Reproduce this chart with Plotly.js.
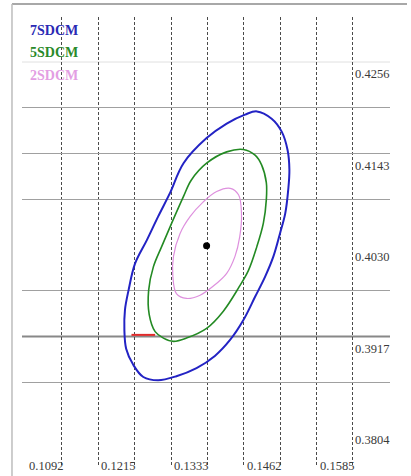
<!DOCTYPE html>
<html>
<head>
<meta charset="utf-8">
<script src="https://cdn.plot.ly/plotly-3.0.1.min.js"></script>
<style>html,body{margin:0;padding:0;background:#fff;}#chart{width:411px;height:476px;}</style>
</head>
<body>
<div id="chart"></div>
<script>
// ---- data ----
var seriesNames = ['7SDCM', '5SDCM', '2SDCM'];

var x7 = [0.1483,0.1508,0.1525,0.1535,0.1538,0.1536,0.1531,0.1522,0.1511,0.1497,0.1480,0.1460,0.1438,0.1412,0.1381,0.1347,0.1316,0.1291,0.1274,0.1262,0.1259,0.1260,0.1266,0.1277,0.1297,0.1316,0.1336,0.1359,0.1398,0.1432,0.1463,0.1483];
var y7 = [0.4195,0.4186,0.4170,0.4147,0.4123,0.4098,0.4069,0.4044,0.4016,0.3991,0.3966,0.3937,0.3913,0.3893,0.3878,0.3868,0.3863,0.3867,0.3882,0.3902,0.3925,0.3950,0.3974,0.4007,0.4036,0.4065,0.4094,0.4131,0.4162,0.4180,0.4191,0.4195];

var x5 = [0.1460,0.1480,0.1491,0.1499,0.1499,0.1494,0.1483,0.1469,0.1452,0.1426,0.1398,0.1364,0.1342,0.1325,0.1311,0.1301,0.1300,0.1308,0.1322,0.1339,0.1359,0.1372,0.1398,0.1432,0.1460];
var y5 = [0.4148,0.4141,0.4129,0.4107,0.4086,0.4057,0.4028,0.3999,0.3977,0.3948,0.3927,0.3915,0.3911,0.3915,0.3923,0.3944,0.3974,0.4003,0.4028,0.4057,0.4090,0.4110,0.4131,0.4145,0.4148];

var x2 = [0.1438,0.1452,0.1457,0.1454,0.1446,0.1432,0.1409,0.1387,0.1364,0.1347,0.1341,0.1342,0.1353,0.1370,0.1392,0.1415,0.1438];
var y2 = [0.4100,0.4092,0.4069,0.4040,0.4016,0.3995,0.3979,0.3968,0.3964,0.3970,0.3991,0.4016,0.4044,0.4065,0.4083,0.4096,0.4100];

var centerX = [0.1398];
var centerY = [0.4029];

var redX = [0.1271, 0.1311];
var redY = [0.3919, 0.3919];

var xTickText = ['0.1092', '0.1215', '0.1333', '0.1462', '0.1585'];
var yTickText = ['0.4256', '0.4143', '0.4030', '0.3917', '0.3804'];

// grid geometry (axis units)
var xOrigin = 0.1092, xStep = 0.00615;
var yOrigin = 0.4256, yStep = 0.00565;

var xGrid = [];
for (var k = 1; k <= 9; k++) xGrid.push(+(xOrigin + k * xStep).toFixed(5));
var yGridAll = [];
for (var j = 0; j <= 8; j++) yGridAll.push(+(yOrigin - j * yStep).toFixed(5));
// lines visible in the picture: faint top, normal ones, dark one at 0.3917
var yGridNormal = [yGridAll[1], yGridAll[2], yGridAll[3], yGridAll[5], yGridAll[7]];
var yGridFaint = yGridAll[0];
var yGridDark = yGridAll[6];

var serif = 'Liberation Serif';

var traces = [
  {x: x7, y: y7, mode: 'lines', name: seriesNames[0], line: {color: '#2323c4', width: 2, shape: 'spline', smoothing: 1}},
  {x: x5, y: y5, mode: 'lines', name: seriesNames[1], line: {color: '#238a23', width: 1.6, shape: 'spline', smoothing: 1}},
  {x: x2, y: y2, mode: 'lines', name: seriesNames[2], line: {color: '#de90de', width: 1.2, shape: 'spline', smoothing: 1}},
  {x: redX, y: redY, mode: 'lines', line: {color: '#e02a2a', width: 2}},
  {x: centerX, y: centerY, mode: 'markers', marker: {color: '#000', size: 7}}
];

var annotations = [];
var legendColors = ['#2a2ab4', '#2a8a2a', '#e39ee3'];
var legendY = [0.9689, 0.92, 0.8711];
for (var i = 0; i < seriesNames.length; i++) {
  annotations.push({xref: 'paper', yref: 'paper', x: 0.0163, y: legendY[i], xanchor: 'left', yanchor: 'middle',
    text: seriesNames[i], showarrow: false, font: {family: serif, size: 14, weight: 'bold', color: legendColors[i]}});
}
for (var i = 0; i < xTickText.length; i++) {
  annotations.push({xref: 'x', yref: 'paper', x: xOrigin + 2 * i * xStep, y: 0, xanchor: 'left', yanchor: 'middle', yshift: 1, xshift: 1,
    text: xTickText[i], showarrow: false, font: {family: serif, size: 12.5, color: '#3a3a3a'}});
}
for (var i = 0; i < yTickText.length; i++) {
  annotations.push({xref: 'x', yref: 'y', x: xGrid[8], y: yOrigin - 2 * i * yStep, xanchor: 'left', yanchor: 'middle', yshift: -12, xshift: 0,
    text: yTickText[i], showarrow: false, font: {family: serif, size: 12.5, color: '#3a3a3a'}});
}

var shapes = [
  {type: 'line', xref: 'paper', yref: 'y', x0: 0, x1: 1, y0: yGridFaint, y1: yGridFaint, layer: 'below', line: {color: '#e0e0e0', width: 1}},
  {type: 'line', xref: 'paper', yref: 'y', x0: 0, x1: 1, y0: yGridDark, y1: yGridDark, layer: 'below', line: {color: '#888888', width: 2}},
  // outer frame (top and left)
  {type: 'line', xref: 'paper', yref: 'paper', x0: -0.0272, x1: 1.0462, y0: 1.0289, y1: 1.0289, line: {color: '#a8a8a8', width: 2}},
  {type: 'line', xref: 'paper', yref: 'paper', x0: -0.0272, x1: -0.0272, y0: 1.0289, y1: -0.03, line: {color: '#bdbdbd', width: 1.5}}
];

var layout = {
  width: 411, height: 476,
  margin: {l: 22, r: 21, t: 17, b: 9},
  paper_bgcolor: '#fff', plot_bgcolor: '#fff',
  showlegend: false,
  xaxis: {range: [0.108591, 0.170810], tickmode: 'array', tickvals: xGrid, showticklabels: false, ticks: '',
    showgrid: true, gridcolor: '#4a4a4a', gridwidth: 1, griddash: '3px,2px', zeroline: false, showline: false},
  yaxis: {range: [0.375584, 0.431157], tickmode: 'array', tickvals: yGridNormal, showticklabels: false, ticks: '',
    showgrid: true, gridcolor: '#a0a0a0', gridwidth: 1, zeroline: false, showline: false},
  annotations: annotations,
  shapes: shapes
};

Plotly.newPlot('chart', traces, layout, {displayModeBar: false, staticPlot: true});
</script>
</body>
</html>
